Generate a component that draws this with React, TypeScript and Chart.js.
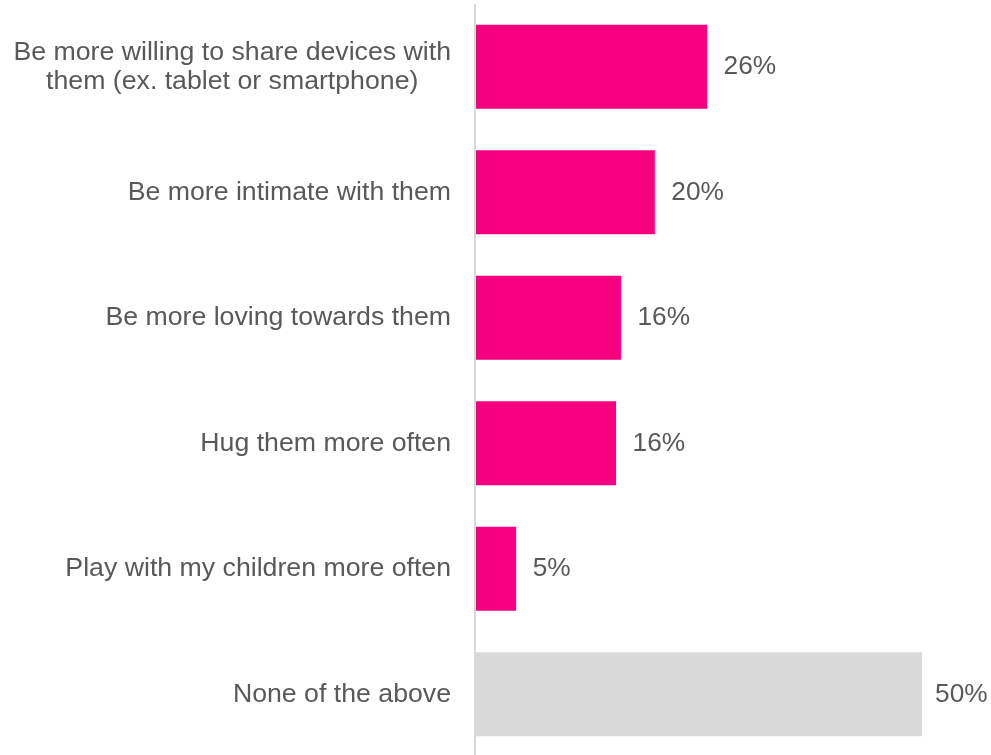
import React, { useEffect, useRef } from "react";
import { Chart, registerables } from "chart.js";

Chart.register(...registerables);

const categories: string[][] = [
  ["Be more willing to share devices with", "them (ex. tablet or smartphone)"],
  ["Be more intimate with them"],
  ["Be more loving towards them"],
  ["Hug them more often"],
  ["Play with my children more often"],
  ["None of the above"],
];
const values: number[] = [25.9, 20.05, 16.25, 15.7, 4.5, 50];
const valueLabels: string[] = ["26%", "20%", "16%", "16%", "5%", "50%"];
const barColors: string[] = ["#F5007F", "#F5007F", "#F5007F", "#F5007F", "#F5007F", "#D9D9D9"];

const LABEL_FONT = "26.7px 'Liberation Sans', Arial, sans-serif";
const VALUE_FONT = "26.3px 'Liberation Sans', Arial, sans-serif";
const TEXT_COLOR = "#595959";

const labelPlugin = {
  id: "customLabels",
  afterDatasetsDraw(chart: any) {
    const ctx = chart.ctx;
    const yScale = chart.scales.y;
    const meta = chart.getDatasetMeta(0);
    ctx.save();
    // axis line
    ctx.fillStyle = "#D9D9D9";
    ctx.fillRect(chart.chartArea.left - 2, chart.chartArea.top, 2, chart.chartArea.bottom - chart.chartArea.top);
    ctx.font = LABEL_FONT;
    ctx.fillStyle = TEXT_COLOR;
    ctx.textBaseline = "middle";
    const rightEdge = chart.chartArea.left - 25;
    categories.forEach((lines, i) => {
      const cy = yScale.getPixelForValue(i);
      const widths = lines.map((l) => ctx.measureText(l).width);
      const blockW = Math.max(...widths);
      const lh = 29;
      lines.forEach((l, j) => {
        const y = cy + (j - (lines.length - 1) / 2) * lh;
        ctx.textAlign = "center";
        ctx.fillText(l, rightEdge - blockW / 2, y);
      });
    });
    ctx.font = VALUE_FONT;
    ctx.textAlign = "left";
    meta.data.forEach((bar: any, i: number) => {
      const gap = i === meta.data.length - 1 ? 13 : 16.5;
      ctx.fillText(valueLabels[i], bar.x + gap, bar.y);
    });
    ctx.restore();
  },
};

export default function App() {
  const canvasRef = useRef<HTMLCanvasElement | null>(null);
  useEffect(() => {
    if (!canvasRef.current) return;
    const chart = new Chart(canvasRef.current, {
      type: "bar",
      data: {
        labels: categories.map((c) => c.join(" ")),
        datasets: [
          {
            data: values,
            backgroundColor: barColors,
            barPercentage: 0.67,
            categoryPercentage: 1,
            borderWidth: 0,
          },
        ],
      },
      options: {
        indexAxis: "y",
        animation: false,
        responsive: false,
        maintainAspectRatio: false,
        layout: { padding: { left: 476, right: 69, top: 4, bottom: 0 } },
        plugins: { legend: { display: false }, tooltip: { enabled: false } },
        scales: {
          x: { display: false, min: 0, max: 50 },
          y: { display: false },
        },
      },
      plugins: [labelPlugin],
    });
    return () => chart.destroy();
  }, []);
  return (
    <div style={{ position: "fixed", left: 0, top: 0, width: 991, height: 757, background: "#fff" }}>
      <canvas ref={canvasRef} width={991} height={757} style={{ width: 991, height: 757 }} />
    </div>
  );
}
